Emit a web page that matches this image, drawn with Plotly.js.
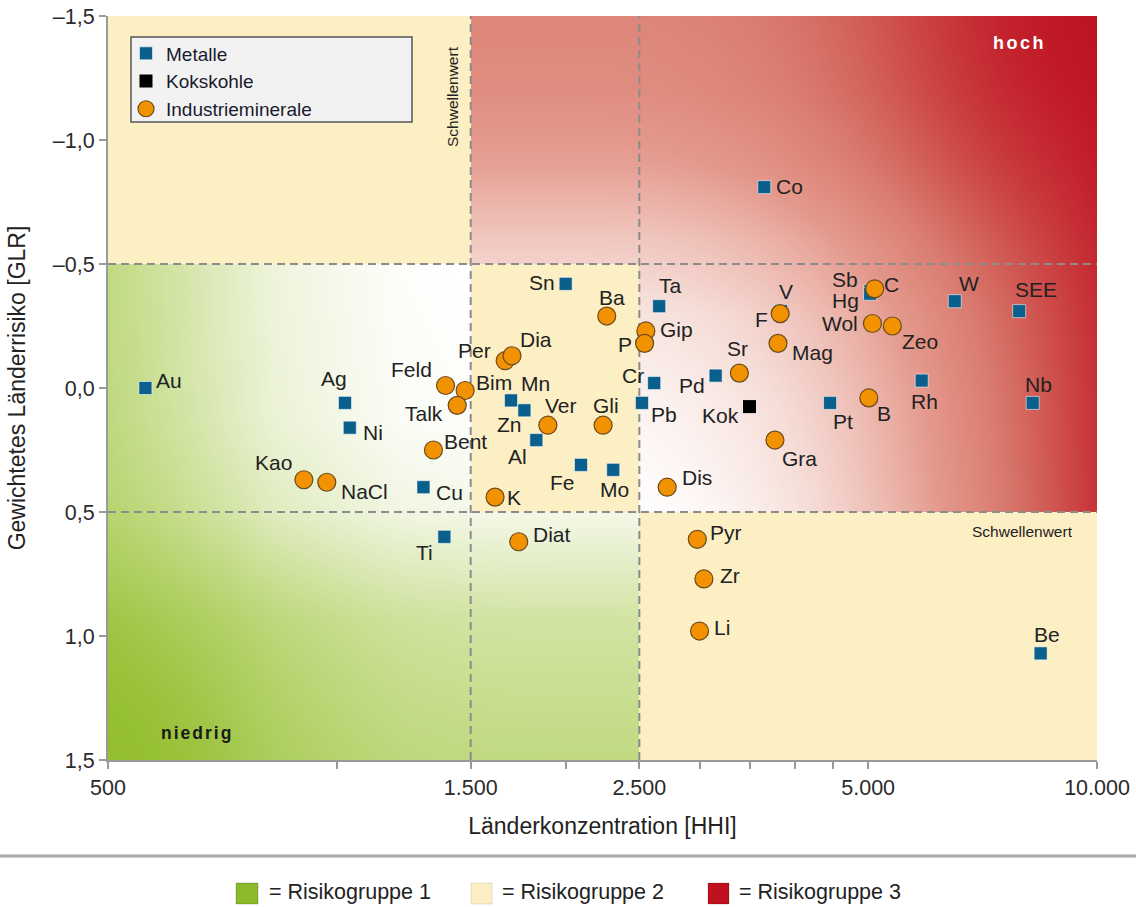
<!DOCTYPE html>
<html><head><meta charset="utf-8">
<script src="https://cdn.plot.ly/plotly-3.0.1.min.js"></script>
<style>html,body{margin:0;padding:0;background:#fff}</style>
</head><body>
<div id="chart" style="width:1136px;height:907px"></div>
<script>
// ---------------- data ----------------
const seriesNames = ['Metalle', 'Kokskohle', 'Industrieminerale'];

const metalNames = ['Au','Ag','Ni','Cu','Ti','Sn','Mn','Zn','Al','Fe','Mo','Ta','Cr','Pb','Pd','Co','V','Pt','Sb','Hg','W','SEE','Rh','Nb','Be'];
const metalHHI   = [560,1025,1040,1300,1385,2000,1695,1765,1830,2095,2310,2655,2615,2520,3150,3650,3840,4455,5030,5030,6500,7900,5880,8230,8430];
const metalGLR   = [0.00,0.06,0.16,0.40,0.60,-0.42,0.05,0.09,0.21,0.31,0.33,-0.33,-0.02,0.06,-0.05,-0.81,-0.31,0.06,-0.39,-0.38,-0.35,-0.31,-0.03,0.06,1.07];

const cokeNames = ['Kok'];
const cokeHHI   = [3490];
const cokeGLR   = [0.075];

const mineralNames = ['Kao','NaCl','Feld','Bim','Talk','Bent','Per','Dia','K','Diat','Ver','Gli','Ba','Gip','P','Dis','Sr','F','Mag','Gra','C','Wol','Zeo','B','Pyr','Zr','Li'];
const mineralHHI   = [905,970,1390,1475,1440,1340,1665,1700,1615,1735,1895,2240,2265,2550,2540,2720,3385,3830,3805,3770,5100,5065,5380,5010,2980,3040,3000];
const mineralGLR   = [0.37,0.38,-0.01,0.01,0.07,0.25,-0.11,-0.13,0.44,0.62,0.15,0.15,-0.29,-0.23,-0.18,0.40,-0.06,-0.30,-0.18,0.21,-0.40,-0.26,-0.25,0.04,0.61,0.77,0.98];

const xTickVals = [500,1000,1500,2000,2500,3000,3500,4000,4500,5000,10000];
const xTickText = ['500','','1.500','','2.500','','','','','5.000','10.000'];
const yTickVals = [-1.5,-1,-0.5,0,0.5,1,1.5];
const yTickText = ['–1,5','–1,0','–0,5','0,0','0,5','1,0','1,5'];

const hhiThresholds = [1500, 2500];
const glrThresholds = [-0.5, 0.5];
const riskGroupLabels = ['= Risikogruppe 1', '= Risikogruppe 2', '= Risikogruppe 3'];
const xTitle = 'Länderkonzentration [HHI]';
const yTitle = 'Gewichtetes Länderrisiko [GLR]';

// ---------------- style ----------------
const FONT = 'Liberation Sans, Arial, sans-serif';
const TXT = '#222222';
const W = 1136, H = 907;
const M = {l:108, r:39, t:16, b:147};
const PW = W - M.l - M.r, PH = H - M.t - M.b;
const X_RANGE = [500, 10000];
const Y_RANGE = [1.5, -1.5];

// label offsets (px, label centre relative to marker centre; +y = down)
const metalLabelOff = [[24,-8],[-11,-24],[23,5],[26,5],[-20,16],[-24,-1],[24,-17],[-15,14],[-19,16],[-18,18],[1,20],[11,-21],[-21,-8],[22,12],[-24,10],[25,-1],[5,-20],[13,19],[-25,-12],[-25,7],[14,-18],[17,-22],[3,21],[6,-18],[6,-19]];
const cokeLabelOff = [[-29,9]];
const mineralLabelOff = [[-30,-17],[38,9],[-34,-16],[29,-8],[-33,8],[32,-9],[-31,-10],[24,-16],[19,0],[33,-7],[13,-20],[3,-20],[5,-19],[31,-1],[-20,1],[30,-10],[-2,-25],[-19,6],[34,9],[25,18],[17,-4],[-32,0],[28,15],[15,16],[29,-7],[26,-3],[22,-4]];

function xFrac(v){ return (Math.log10(v)-Math.log10(X_RANGE[0]))/(Math.log10(X_RANGE[1])-Math.log10(X_RANGE[0])); }
function yFrac(v){ return (v - Y_RANGE[0])/(Y_RANGE[1]-Y_RANGE[0]); }

// ---------------- background gradients ----------------
const YELLOW = [253,239,196];
const RED_STOPS = [[0,255,255,255],[0.15,246,222,216],[0.4,228,152,140],[0.55,217,125,112],[0.75,205,75,72],[1,190,16,32]];
const GREEN_STOPS = [[0,255,255,255],[0.15,238,244,220],[0.5,198,221,140],[0.75,170,205,90],[1,138,184,28]];
const RED_V = [[0,0.5],[0.1,0.46],[0.2,0.37],[0.3,0.23],[0.4,0.12],[0.52,0.05],[0.667,0]];
const GREEN_H = [[0,0.55],[0.093,0.33],[0.169,0.15],[0.295,0.02],[0.367,0]];
const GREEN_V = [[0.333,0],[0.543,0.02],[0.667,0.1],[0.812,0.4],[1,0.55]];
function clamp(t){ return t<0?0:(t>1?1:t); }
function pw(tab, v){
  if (v <= tab[0][0]) return tab[0][1];
  for (let i=1;i<tab.length;i++){ if (v <= tab[i][0]) { const a=tab[i-1], b=tab[i]; return a[1]+(b[1]-a[1])*(v-a[0])/(b[0]-a[0]); } }
  return tab[tab.length-1][1];
}
function ramp(stops, t){
  t = clamp(t);
  for (let i=1;i<stops.length;i++){ if (t <= stops[i][0]) { const a=stops[i-1], b=stops[i]; const f=(t-a[0])/(b[0]-a[0]); return [a[1]+(b[1]-a[1])*f, a[2]+(b[2]-a[2])*f, a[3]+(b[3]-a[3])*f]; } }
  const l = stops[stops.length-1]; return [l[1],l[2],l[3]];
}
function makeBackground(){
  const c = document.createElement('canvas'); c.width = PW; c.height = PH;
  const ctx = c.getContext('2d'); const img = ctx.createImageData(PW, PH); const d = img.data;
  const xa = xFrac(hhiThresholds[0])*PW, xb = xFrac(hhiThresholds[1])*PW;
  const ya = (1-yFrac(glrThresholds[0]))*PH, yb = (1-yFrac(glrThresholds[1]))*PH;
  for (let py=0; py<PH; py++) {
    for (let px=0; px<PW; px++) {
      const x = px+0.5, y = py+0.5; let col;
      if ((x<xa && y<ya) || (x>=xa && x<xb && y>=ya && y<yb) || (x>=xb && y>=yb)) col = YELLOW;
      else {
        const cross = (xb-xa)*(y-ya) - (yb-ya)*(x-xa);
        const u = x/PW, v = y/PH;
        if (cross < 0) {
          const ih = 0.85*Math.pow(clamp((u-0.497)/0.503), 2);
          const iv = pw(RED_V, v);
          const dc = Math.hypot(PW-x, y)/185;
          const ic = 0.8*Math.exp(-dc*dc);
          col = ramp(RED_STOPS, 1-(1-ih)*(1-iv)*(1-ic));
        } else {
          const gh = pw(GREEN_H, u), gv = pw(GREEN_V, v);
          const dg = Math.hypot(x, PH-y)/190;
          const gc = 0.65*Math.exp(-dg*dg);
          col = ramp(GREEN_STOPS, 1-(1-gh)*(1-gv)*(1-gc));
        }
      }
      const k = (py*PW+px)*4;
      d[k]=col[0]; d[k+1]=col[1]; d[k+2]=col[2]; d[k+3]=255;
    }
  }
  ctx.putImageData(img, 0, 0);
  return c.toDataURL('image/png');
}

// ---------------- traces ----------------
const traces = [
  {type:'scatter', mode:'markers', name:seriesNames[0], x:metalHHI, y:metalGLR, text:metalNames,
   marker:{symbol:'square', size:13, color:'#0B5F8C', line:{width:1, color:'rgba(255,255,255,0.55)'}}, hoverinfo:'text'},
  {type:'scatter', mode:'markers', name:seriesNames[1], x:cokeHHI, y:cokeGLR, text:cokeNames,
   marker:{symbol:'square', size:13, color:'#000000'}, hoverinfo:'text'},
  {type:'scatter', mode:'markers', name:seriesNames[2], x:mineralHHI, y:mineralGLR, text:mineralNames,
   marker:{symbol:'circle', size:18, color:'#F39200', line:{width:1.2, color:'#6B4A1E'}}, hoverinfo:'text'}
];

function labelAnn(names, hhi, glr, off){
  return names.map((n,i)=>({x:Math.log10(hhi[i]), y:glr[i], xref:'x', yref:'y', text:n, showarrow:false,
    xanchor:'center', yanchor:'middle', xshift:off[i][0], yshift:-off[i][1], font:{family:FONT, size:21, color:TXT}}));
}
function px2paperX(p){ return (p - M.l)/PW; }
function px2paperY(p){ return (M.t + PH - p)/PH; }
function paperText(px, py, text, font, extra){
  return Object.assign({xref:'paper', yref:'paper', x:px2paperX(px), y:px2paperY(py), text:text, showarrow:false,
    xanchor:'center', yanchor:'middle', font:Object.assign({family:FONT, color:TXT}, font)}, extra || {});
}

const annotations = [].concat(
  labelAnn(metalNames, metalHHI, metalGLR, metalLabelOff),
  labelAnn(cokeNames, cokeHHI, cokeGLR, cokeLabelOff),
  labelAnn(mineralNames, mineralHHI, mineralGLR, mineralLabelOff),
  [
    paperText(452, 97, 'Schwellenwert', {size:15.5}, {textangle:-90}),
    paperText(1022, 531, 'Schwellenwert', {size:15.5}),
    paperText(1019, 43, '<b><span style="letter-spacing:2.5px">hoch</span></b>', {size:18, color:'#ffffff'}),
    paperText(197, 733, '<b><span style="letter-spacing:2px">niedrig</span></b>', {size:17.5, color:'#1a1a1a'}),
    paperText(267, 892, riskGroupLabels[0], {size:21.5}, {xanchor:'left'}),
    paperText(500, 892, riskGroupLabels[1], {size:21.5}, {xanchor:'left'}),
    paperText(737, 892, riskGroupLabels[2], {size:21.5}, {xanchor:'left'})
  ]
);

const dash = {color:'#8C8C8C', width:2, dash:'8px,5px'};
const shapes = [
  {type:'line', layer:'below', xref:'x', yref:'paper', x0:hhiThresholds[0], x1:hhiThresholds[0], y0:0, y1:1, line:dash},
  {type:'line', layer:'below', xref:'x', yref:'paper', x0:hhiThresholds[1], x1:hhiThresholds[1], y0:0, y1:1, line:dash},
  {type:'line', layer:'below', xref:'paper', yref:'y', x0:0, x1:1, y0:glrThresholds[0], y1:glrThresholds[0], line:dash},
  {type:'line', layer:'below', xref:'paper', yref:'y', x0:0, x1:1, y0:glrThresholds[1], y1:glrThresholds[1], line:dash},
  {type:'rect', layer:'below', xref:'paper', yref:'paper', x0:px2paperX(131), x1:px2paperX(412), y0:px2paperY(122), y1:px2paperY(37), fillcolor:'#F2F2F2', line:{color:'#555555', width:1.5}},
  {type:'line', layer:'above', xref:'paper', yref:'paper', x0:px2paperX(0), x1:px2paperX(W), y0:px2paperY(856), y1:px2paperY(856), line:{color:'#A8A8A8', width:3}},
  {type:'rect', layer:'above', xref:'paper', yref:'paper', x0:px2paperX(236), x1:px2paperX(258), y0:px2paperY(904), y1:px2paperY(883), fillcolor:'#8CB92A', line:{color:'rgba(0,0,0,0.18)', width:1}},
  {type:'rect', layer:'above', xref:'paper', yref:'paper', x0:px2paperX(471), x1:px2paperX(492), y0:px2paperY(904), y1:px2paperY(883), fillcolor:'#FDEFC4', line:{color:'rgba(0,0,0,0.10)', width:1}},
  {type:'rect', layer:'above', xref:'paper', yref:'paper', x0:px2paperX(708), x1:px2paperX(729), y0:px2paperY(904), y1:px2paperY(883), fillcolor:'#C0111E', line:{color:'rgba(0,0,0,0.18)', width:1}}
];

const layout = {
  width:W, height:H, margin:M, paper_bgcolor:'#ffffff', plot_bgcolor:'#ffffff',
  font:{family:FONT, color:TXT},
  showlegend:true,
  legend:{x:px2paperX(126), y:px2paperY(34.5), xanchor:'left', yanchor:'top', bgcolor:'rgba(0,0,0,0)', borderwidth:0, font:{family:FONT, size:19, color:'#1a1a2e'}},
  xaxis:{type:'log', range:[Math.log10(X_RANGE[0]), Math.log10(X_RANGE[1])], tickmode:'array', tickvals:xTickVals, ticktext:xTickText,
    showgrid:false, zeroline:false, showline:true, linecolor:'#9A9A9A', linewidth:2, ticks:'outside', ticklen:7, tickwidth:2, tickcolor:'#9A9A9A',
    tickfont:{family:FONT, size:21.5, color:'#2a2a2a'}, title:{text:xTitle, font:{family:FONT, size:23, color:TXT}, standoff:19}},
  yaxis:{range:Y_RANGE, tickmode:'array', tickvals:yTickVals, ticktext:yTickText,
    showgrid:false, zeroline:false, showline:true, linecolor:'#9A9A9A', linewidth:2, ticks:'outside', ticklen:7, tickwidth:2, tickcolor:'#9A9A9A',
    tickfont:{family:FONT, size:21.5, color:'#2a2a2a'}, title:{text:yTitle, font:{family:FONT, size:23, color:TXT}, standoff:21}},
  images:[{source:makeBackground(), xref:'paper', yref:'paper', x:0, y:1, sizex:1, sizey:1, xanchor:'left', yanchor:'top', sizing:'stretch', layer:'below'}],
  shapes:shapes,
  annotations:annotations
};

Plotly.newPlot('chart', traces, layout, {displayModeBar:false, staticPlot:true});
</script>
</body></html>
